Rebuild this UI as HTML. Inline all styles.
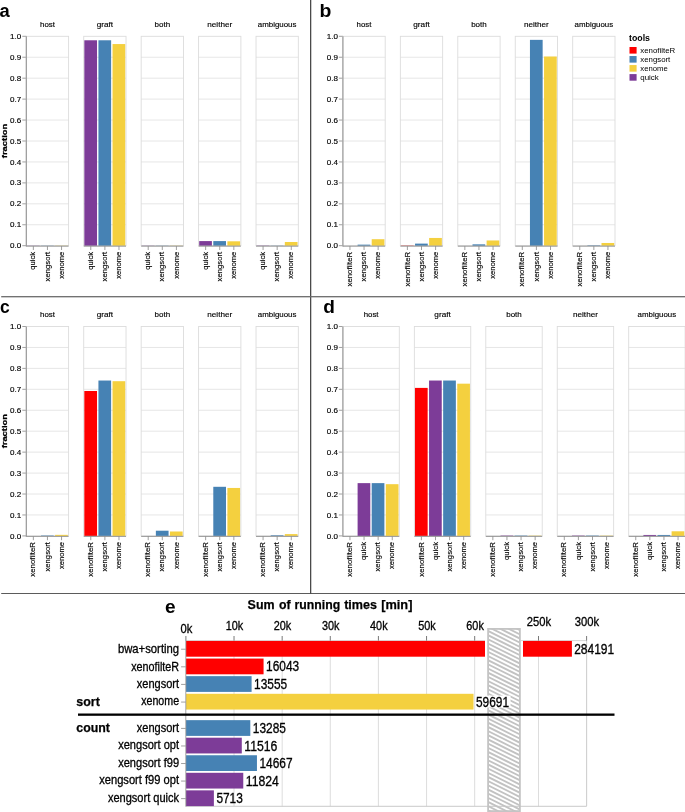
<!DOCTYPE html>
<html><head><meta charset="utf-8"><title>figure</title>
<style>
html,body{margin:0;padding:0;background:#fff;}
body{width:685px;height:812px;overflow:hidden;font-family:"Liberation Sans",sans-serif;}
svg{display:block;will-change:transform;}
svg text{font-family:"Liberation Sans",sans-serif;fill:#000;}
svg text.h{stroke:#000;stroke-width:0.3px;}
svg text.s{stroke:#000;stroke-width:0.15px;}
svg text.b{stroke:#000;stroke-width:0.25px;}
</style></head><body>
<svg width="685" height="812" viewBox="0 0 685 812">
<line x1="22.30" x2="26.30" y1="245.70" y2="245.70" stroke="#888" stroke-width="0.8"/>
<text x="21.30" y="248.30" font-size="7.5" class="s" text-anchor="end" textLength="11.2" lengthAdjust="spacingAndGlyphs" fill="#000">0.0</text>
<line x1="22.30" x2="26.30" y1="224.76" y2="224.76" stroke="#888" stroke-width="0.8"/>
<text x="21.30" y="227.36" font-size="7.5" class="s" text-anchor="end" textLength="11.2" lengthAdjust="spacingAndGlyphs" fill="#000">0.1</text>
<line x1="22.30" x2="26.30" y1="203.82" y2="203.82" stroke="#888" stroke-width="0.8"/>
<text x="21.30" y="206.42" font-size="7.5" class="s" text-anchor="end" textLength="11.2" lengthAdjust="spacingAndGlyphs" fill="#000">0.2</text>
<line x1="22.30" x2="26.30" y1="182.88" y2="182.88" stroke="#888" stroke-width="0.8"/>
<text x="21.30" y="185.48" font-size="7.5" class="s" text-anchor="end" textLength="11.2" lengthAdjust="spacingAndGlyphs" fill="#000">0.3</text>
<line x1="22.30" x2="26.30" y1="161.94" y2="161.94" stroke="#888" stroke-width="0.8"/>
<text x="21.30" y="164.54" font-size="7.5" class="s" text-anchor="end" textLength="11.2" lengthAdjust="spacingAndGlyphs" fill="#000">0.4</text>
<line x1="22.30" x2="26.30" y1="141.00" y2="141.00" stroke="#888" stroke-width="0.8"/>
<text x="21.30" y="143.60" font-size="7.5" class="s" text-anchor="end" textLength="11.2" lengthAdjust="spacingAndGlyphs" fill="#000">0.5</text>
<line x1="22.30" x2="26.30" y1="120.06" y2="120.06" stroke="#888" stroke-width="0.8"/>
<text x="21.30" y="122.66" font-size="7.5" class="s" text-anchor="end" textLength="11.2" lengthAdjust="spacingAndGlyphs" fill="#000">0.6</text>
<line x1="22.30" x2="26.30" y1="99.12" y2="99.12" stroke="#888" stroke-width="0.8"/>
<text x="21.30" y="101.72" font-size="7.5" class="s" text-anchor="end" textLength="11.2" lengthAdjust="spacingAndGlyphs" fill="#000">0.7</text>
<line x1="22.30" x2="26.30" y1="78.18" y2="78.18" stroke="#888" stroke-width="0.8"/>
<text x="21.30" y="80.78" font-size="7.5" class="s" text-anchor="end" textLength="11.2" lengthAdjust="spacingAndGlyphs" fill="#000">0.8</text>
<line x1="22.30" x2="26.30" y1="57.24" y2="57.24" stroke="#888" stroke-width="0.8"/>
<text x="21.30" y="59.84" font-size="7.5" class="s" text-anchor="end" textLength="11.2" lengthAdjust="spacingAndGlyphs" fill="#000">0.9</text>
<line x1="22.30" x2="26.30" y1="36.30" y2="36.30" stroke="#888" stroke-width="0.8"/>
<text x="21.30" y="38.90" font-size="7.5" class="s" text-anchor="end" textLength="11.2" lengthAdjust="spacingAndGlyphs" fill="#000">1.0</text>
<text transform="translate(6.9,141.00) rotate(-90)" font-size="8.1" class="b" font-weight="bold" text-anchor="middle" textLength="34.3" lengthAdjust="spacingAndGlyphs" fill="#000">fraction</text>
<line x1="26.30" x2="68.60" y1="224.76" y2="224.76" stroke="#dfdfdf" stroke-width="0.8"/>
<line x1="26.30" x2="68.60" y1="203.82" y2="203.82" stroke="#dfdfdf" stroke-width="0.8"/>
<line x1="26.30" x2="68.60" y1="182.88" y2="182.88" stroke="#dfdfdf" stroke-width="0.8"/>
<line x1="26.30" x2="68.60" y1="161.94" y2="161.94" stroke="#dfdfdf" stroke-width="0.8"/>
<line x1="26.30" x2="68.60" y1="141.00" y2="141.00" stroke="#dfdfdf" stroke-width="0.8"/>
<line x1="26.30" x2="68.60" y1="120.06" y2="120.06" stroke="#dfdfdf" stroke-width="0.8"/>
<line x1="26.30" x2="68.60" y1="99.12" y2="99.12" stroke="#dfdfdf" stroke-width="0.8"/>
<line x1="26.30" x2="68.60" y1="78.18" y2="78.18" stroke="#dfdfdf" stroke-width="0.8"/>
<line x1="26.30" x2="68.60" y1="57.24" y2="57.24" stroke="#dfdfdf" stroke-width="0.8"/>
<rect x="26.30" y="36.30" width="42.30" height="209.40" fill="none" stroke="#dcdcdc" stroke-width="0.9"/>
<rect x="26.90" y="245.53" width="12.7" height="0.17" fill="#7d3c98"/>
<rect x="41.00" y="245.53" width="12.7" height="0.17" fill="#4682b4"/>
<rect x="55.10" y="245.53" width="12.7" height="0.17" fill="#f4d03f"/>
<line x1="26.30" x2="68.60" y1="246.15" y2="246.15" stroke="#888" stroke-width="0.9"/>
<line x1="33.35" x2="33.35" y1="246.15" y2="250.00" stroke="#888" stroke-width="0.8"/>
<text transform="translate(35.45,251.80) rotate(-90)" class="s" font-size="7.7" text-anchor="end" textLength="18.0" lengthAdjust="spacingAndGlyphs" fill="#000">quick</text>
<line x1="47.45" x2="47.45" y1="246.15" y2="250.00" stroke="#888" stroke-width="0.8"/>
<text transform="translate(49.55,251.80) rotate(-90)" class="s" font-size="7.7" text-anchor="end" textLength="29.6" lengthAdjust="spacingAndGlyphs" fill="#000">xengsort</text>
<line x1="61.55" x2="61.55" y1="246.15" y2="250.00" stroke="#888" stroke-width="0.8"/>
<text transform="translate(63.65,251.80) rotate(-90)" class="s" font-size="7.7" text-anchor="end" textLength="27.0" lengthAdjust="spacingAndGlyphs" fill="#000">xenome</text>
<text x="47.45" y="27.20" font-size="7.8" class="s" text-anchor="middle" textLength="14.9" lengthAdjust="spacingAndGlyphs" fill="#000">host</text>
<line x1="83.73" x2="126.03" y1="224.76" y2="224.76" stroke="#dfdfdf" stroke-width="0.8"/>
<line x1="83.73" x2="126.03" y1="203.82" y2="203.82" stroke="#dfdfdf" stroke-width="0.8"/>
<line x1="83.73" x2="126.03" y1="182.88" y2="182.88" stroke="#dfdfdf" stroke-width="0.8"/>
<line x1="83.73" x2="126.03" y1="161.94" y2="161.94" stroke="#dfdfdf" stroke-width="0.8"/>
<line x1="83.73" x2="126.03" y1="141.00" y2="141.00" stroke="#dfdfdf" stroke-width="0.8"/>
<line x1="83.73" x2="126.03" y1="120.06" y2="120.06" stroke="#dfdfdf" stroke-width="0.8"/>
<line x1="83.73" x2="126.03" y1="99.12" y2="99.12" stroke="#dfdfdf" stroke-width="0.8"/>
<line x1="83.73" x2="126.03" y1="78.18" y2="78.18" stroke="#dfdfdf" stroke-width="0.8"/>
<line x1="83.73" x2="126.03" y1="57.24" y2="57.24" stroke="#dfdfdf" stroke-width="0.8"/>
<rect x="83.73" y="36.30" width="42.30" height="209.40" fill="none" stroke="#dcdcdc" stroke-width="0.9"/>
<rect x="84.33" y="40.28" width="12.7" height="205.42" fill="#7d3c98"/>
<rect x="98.43" y="40.28" width="12.7" height="205.42" fill="#4682b4"/>
<rect x="112.53" y="44.05" width="12.7" height="201.65" fill="#f4d03f"/>
<line x1="83.73" x2="126.03" y1="246.15" y2="246.15" stroke="#888" stroke-width="0.9"/>
<line x1="90.78" x2="90.78" y1="246.15" y2="250.00" stroke="#888" stroke-width="0.8"/>
<text transform="translate(92.88,251.80) rotate(-90)" class="s" font-size="7.7" text-anchor="end" textLength="18.0" lengthAdjust="spacingAndGlyphs" fill="#000">quick</text>
<line x1="104.88" x2="104.88" y1="246.15" y2="250.00" stroke="#888" stroke-width="0.8"/>
<text transform="translate(106.98,251.80) rotate(-90)" class="s" font-size="7.7" text-anchor="end" textLength="29.6" lengthAdjust="spacingAndGlyphs" fill="#000">xengsort</text>
<line x1="118.98" x2="118.98" y1="246.15" y2="250.00" stroke="#888" stroke-width="0.8"/>
<text transform="translate(121.08,251.80) rotate(-90)" class="s" font-size="7.7" text-anchor="end" textLength="27.0" lengthAdjust="spacingAndGlyphs" fill="#000">xenome</text>
<text x="104.88" y="27.20" font-size="7.8" class="s" text-anchor="middle" textLength="16.4" lengthAdjust="spacingAndGlyphs" fill="#000">graft</text>
<line x1="141.16" x2="183.46" y1="224.76" y2="224.76" stroke="#dfdfdf" stroke-width="0.8"/>
<line x1="141.16" x2="183.46" y1="203.82" y2="203.82" stroke="#dfdfdf" stroke-width="0.8"/>
<line x1="141.16" x2="183.46" y1="182.88" y2="182.88" stroke="#dfdfdf" stroke-width="0.8"/>
<line x1="141.16" x2="183.46" y1="161.94" y2="161.94" stroke="#dfdfdf" stroke-width="0.8"/>
<line x1="141.16" x2="183.46" y1="141.00" y2="141.00" stroke="#dfdfdf" stroke-width="0.8"/>
<line x1="141.16" x2="183.46" y1="120.06" y2="120.06" stroke="#dfdfdf" stroke-width="0.8"/>
<line x1="141.16" x2="183.46" y1="99.12" y2="99.12" stroke="#dfdfdf" stroke-width="0.8"/>
<line x1="141.16" x2="183.46" y1="78.18" y2="78.18" stroke="#dfdfdf" stroke-width="0.8"/>
<line x1="141.16" x2="183.46" y1="57.24" y2="57.24" stroke="#dfdfdf" stroke-width="0.8"/>
<rect x="141.16" y="36.30" width="42.30" height="209.40" fill="none" stroke="#dcdcdc" stroke-width="0.9"/>
<rect x="141.76" y="245.53" width="12.7" height="0.17" fill="#7d3c98"/>
<rect x="155.86" y="245.53" width="12.7" height="0.17" fill="#4682b4"/>
<rect x="169.96" y="245.53" width="12.7" height="0.17" fill="#f4d03f"/>
<line x1="141.16" x2="183.46" y1="246.15" y2="246.15" stroke="#888" stroke-width="0.9"/>
<line x1="148.21" x2="148.21" y1="246.15" y2="250.00" stroke="#888" stroke-width="0.8"/>
<text transform="translate(150.31,251.80) rotate(-90)" class="s" font-size="7.7" text-anchor="end" textLength="18.0" lengthAdjust="spacingAndGlyphs" fill="#000">quick</text>
<line x1="162.31" x2="162.31" y1="246.15" y2="250.00" stroke="#888" stroke-width="0.8"/>
<text transform="translate(164.41,251.80) rotate(-90)" class="s" font-size="7.7" text-anchor="end" textLength="29.6" lengthAdjust="spacingAndGlyphs" fill="#000">xengsort</text>
<line x1="176.41" x2="176.41" y1="246.15" y2="250.00" stroke="#888" stroke-width="0.8"/>
<text transform="translate(178.51,251.80) rotate(-90)" class="s" font-size="7.7" text-anchor="end" textLength="27.0" lengthAdjust="spacingAndGlyphs" fill="#000">xenome</text>
<text x="162.31" y="27.20" font-size="7.8" class="s" text-anchor="middle" textLength="15.6" lengthAdjust="spacingAndGlyphs" fill="#000">both</text>
<line x1="198.59" x2="240.89" y1="224.76" y2="224.76" stroke="#dfdfdf" stroke-width="0.8"/>
<line x1="198.59" x2="240.89" y1="203.82" y2="203.82" stroke="#dfdfdf" stroke-width="0.8"/>
<line x1="198.59" x2="240.89" y1="182.88" y2="182.88" stroke="#dfdfdf" stroke-width="0.8"/>
<line x1="198.59" x2="240.89" y1="161.94" y2="161.94" stroke="#dfdfdf" stroke-width="0.8"/>
<line x1="198.59" x2="240.89" y1="141.00" y2="141.00" stroke="#dfdfdf" stroke-width="0.8"/>
<line x1="198.59" x2="240.89" y1="120.06" y2="120.06" stroke="#dfdfdf" stroke-width="0.8"/>
<line x1="198.59" x2="240.89" y1="99.12" y2="99.12" stroke="#dfdfdf" stroke-width="0.8"/>
<line x1="198.59" x2="240.89" y1="78.18" y2="78.18" stroke="#dfdfdf" stroke-width="0.8"/>
<line x1="198.59" x2="240.89" y1="57.24" y2="57.24" stroke="#dfdfdf" stroke-width="0.8"/>
<rect x="198.59" y="36.30" width="42.30" height="209.40" fill="none" stroke="#dcdcdc" stroke-width="0.9"/>
<rect x="199.19" y="241.09" width="12.7" height="4.61" fill="#7d3c98"/>
<rect x="213.29" y="241.09" width="12.7" height="4.61" fill="#4682b4"/>
<rect x="227.39" y="241.30" width="12.7" height="4.40" fill="#f4d03f"/>
<line x1="198.59" x2="240.89" y1="246.15" y2="246.15" stroke="#888" stroke-width="0.9"/>
<line x1="205.64" x2="205.64" y1="246.15" y2="250.00" stroke="#888" stroke-width="0.8"/>
<text transform="translate(207.74,251.80) rotate(-90)" class="s" font-size="7.7" text-anchor="end" textLength="18.0" lengthAdjust="spacingAndGlyphs" fill="#000">quick</text>
<line x1="219.74" x2="219.74" y1="246.15" y2="250.00" stroke="#888" stroke-width="0.8"/>
<text transform="translate(221.84,251.80) rotate(-90)" class="s" font-size="7.7" text-anchor="end" textLength="29.6" lengthAdjust="spacingAndGlyphs" fill="#000">xengsort</text>
<line x1="233.84" x2="233.84" y1="246.15" y2="250.00" stroke="#888" stroke-width="0.8"/>
<text transform="translate(235.94,251.80) rotate(-90)" class="s" font-size="7.7" text-anchor="end" textLength="27.0" lengthAdjust="spacingAndGlyphs" fill="#000">xenome</text>
<text x="219.74" y="27.20" font-size="7.8" class="s" text-anchor="middle" textLength="24.9" lengthAdjust="spacingAndGlyphs" fill="#000">neither</text>
<line x1="256.02" x2="298.32" y1="224.76" y2="224.76" stroke="#dfdfdf" stroke-width="0.8"/>
<line x1="256.02" x2="298.32" y1="203.82" y2="203.82" stroke="#dfdfdf" stroke-width="0.8"/>
<line x1="256.02" x2="298.32" y1="182.88" y2="182.88" stroke="#dfdfdf" stroke-width="0.8"/>
<line x1="256.02" x2="298.32" y1="161.94" y2="161.94" stroke="#dfdfdf" stroke-width="0.8"/>
<line x1="256.02" x2="298.32" y1="141.00" y2="141.00" stroke="#dfdfdf" stroke-width="0.8"/>
<line x1="256.02" x2="298.32" y1="120.06" y2="120.06" stroke="#dfdfdf" stroke-width="0.8"/>
<line x1="256.02" x2="298.32" y1="99.12" y2="99.12" stroke="#dfdfdf" stroke-width="0.8"/>
<line x1="256.02" x2="298.32" y1="78.18" y2="78.18" stroke="#dfdfdf" stroke-width="0.8"/>
<line x1="256.02" x2="298.32" y1="57.24" y2="57.24" stroke="#dfdfdf" stroke-width="0.8"/>
<rect x="256.02" y="36.30" width="42.30" height="209.40" fill="none" stroke="#dcdcdc" stroke-width="0.9"/>
<rect x="256.62" y="245.45" width="12.7" height="0.25" fill="#7d3c98"/>
<rect x="270.72" y="245.53" width="12.7" height="0.17" fill="#4682b4"/>
<rect x="284.82" y="241.99" width="12.7" height="3.71" fill="#f4d03f"/>
<line x1="256.02" x2="298.32" y1="246.15" y2="246.15" stroke="#888" stroke-width="0.9"/>
<line x1="263.07" x2="263.07" y1="246.15" y2="250.00" stroke="#888" stroke-width="0.8"/>
<text transform="translate(265.17,251.80) rotate(-90)" class="s" font-size="7.7" text-anchor="end" textLength="18.0" lengthAdjust="spacingAndGlyphs" fill="#000">quick</text>
<line x1="277.17" x2="277.17" y1="246.15" y2="250.00" stroke="#888" stroke-width="0.8"/>
<text transform="translate(279.27,251.80) rotate(-90)" class="s" font-size="7.7" text-anchor="end" textLength="29.6" lengthAdjust="spacingAndGlyphs" fill="#000">xengsort</text>
<line x1="291.27" x2="291.27" y1="246.15" y2="250.00" stroke="#888" stroke-width="0.8"/>
<text transform="translate(293.37,251.80) rotate(-90)" class="s" font-size="7.7" text-anchor="end" textLength="27.0" lengthAdjust="spacingAndGlyphs" fill="#000">xenome</text>
<text x="277.17" y="27.20" font-size="7.8" class="s" text-anchor="middle" textLength="38.6" lengthAdjust="spacingAndGlyphs" fill="#000">ambiguous</text>
<line x1="26.30" x2="26.30" y1="36.30" y2="246.50" stroke="#959595" stroke-width="1.1"/>
<line x1="338.90" x2="342.90" y1="245.70" y2="245.70" stroke="#888" stroke-width="0.8"/>
<text x="337.90" y="248.30" font-size="7.5" class="s" text-anchor="end" textLength="11.2" lengthAdjust="spacingAndGlyphs" fill="#000">0.0</text>
<line x1="338.90" x2="342.90" y1="224.76" y2="224.76" stroke="#888" stroke-width="0.8"/>
<text x="337.90" y="227.36" font-size="7.5" class="s" text-anchor="end" textLength="11.2" lengthAdjust="spacingAndGlyphs" fill="#000">0.1</text>
<line x1="338.90" x2="342.90" y1="203.82" y2="203.82" stroke="#888" stroke-width="0.8"/>
<text x="337.90" y="206.42" font-size="7.5" class="s" text-anchor="end" textLength="11.2" lengthAdjust="spacingAndGlyphs" fill="#000">0.2</text>
<line x1="338.90" x2="342.90" y1="182.88" y2="182.88" stroke="#888" stroke-width="0.8"/>
<text x="337.90" y="185.48" font-size="7.5" class="s" text-anchor="end" textLength="11.2" lengthAdjust="spacingAndGlyphs" fill="#000">0.3</text>
<line x1="338.90" x2="342.90" y1="161.94" y2="161.94" stroke="#888" stroke-width="0.8"/>
<text x="337.90" y="164.54" font-size="7.5" class="s" text-anchor="end" textLength="11.2" lengthAdjust="spacingAndGlyphs" fill="#000">0.4</text>
<line x1="338.90" x2="342.90" y1="141.00" y2="141.00" stroke="#888" stroke-width="0.8"/>
<text x="337.90" y="143.60" font-size="7.5" class="s" text-anchor="end" textLength="11.2" lengthAdjust="spacingAndGlyphs" fill="#000">0.5</text>
<line x1="338.90" x2="342.90" y1="120.06" y2="120.06" stroke="#888" stroke-width="0.8"/>
<text x="337.90" y="122.66" font-size="7.5" class="s" text-anchor="end" textLength="11.2" lengthAdjust="spacingAndGlyphs" fill="#000">0.6</text>
<line x1="338.90" x2="342.90" y1="99.12" y2="99.12" stroke="#888" stroke-width="0.8"/>
<text x="337.90" y="101.72" font-size="7.5" class="s" text-anchor="end" textLength="11.2" lengthAdjust="spacingAndGlyphs" fill="#000">0.7</text>
<line x1="338.90" x2="342.90" y1="78.18" y2="78.18" stroke="#888" stroke-width="0.8"/>
<text x="337.90" y="80.78" font-size="7.5" class="s" text-anchor="end" textLength="11.2" lengthAdjust="spacingAndGlyphs" fill="#000">0.8</text>
<line x1="338.90" x2="342.90" y1="57.24" y2="57.24" stroke="#888" stroke-width="0.8"/>
<text x="337.90" y="59.84" font-size="7.5" class="s" text-anchor="end" textLength="11.2" lengthAdjust="spacingAndGlyphs" fill="#000">0.9</text>
<line x1="338.90" x2="342.90" y1="36.30" y2="36.30" stroke="#888" stroke-width="0.8"/>
<text x="337.90" y="38.90" font-size="7.5" class="s" text-anchor="end" textLength="11.2" lengthAdjust="spacingAndGlyphs" fill="#000">1.0</text>
<line x1="342.90" x2="385.20" y1="224.76" y2="224.76" stroke="#dfdfdf" stroke-width="0.8"/>
<line x1="342.90" x2="385.20" y1="203.82" y2="203.82" stroke="#dfdfdf" stroke-width="0.8"/>
<line x1="342.90" x2="385.20" y1="182.88" y2="182.88" stroke="#dfdfdf" stroke-width="0.8"/>
<line x1="342.90" x2="385.20" y1="161.94" y2="161.94" stroke="#dfdfdf" stroke-width="0.8"/>
<line x1="342.90" x2="385.20" y1="141.00" y2="141.00" stroke="#dfdfdf" stroke-width="0.8"/>
<line x1="342.90" x2="385.20" y1="120.06" y2="120.06" stroke="#dfdfdf" stroke-width="0.8"/>
<line x1="342.90" x2="385.20" y1="99.12" y2="99.12" stroke="#dfdfdf" stroke-width="0.8"/>
<line x1="342.90" x2="385.20" y1="78.18" y2="78.18" stroke="#dfdfdf" stroke-width="0.8"/>
<line x1="342.90" x2="385.20" y1="57.24" y2="57.24" stroke="#dfdfdf" stroke-width="0.8"/>
<rect x="342.90" y="36.30" width="42.30" height="209.40" fill="none" stroke="#dcdcdc" stroke-width="0.9"/>
<rect x="357.60" y="244.65" width="12.7" height="1.05" fill="#4682b4"/>
<rect x="371.70" y="239.21" width="12.7" height="6.49" fill="#f4d03f"/>
<line x1="342.90" x2="385.20" y1="246.15" y2="246.15" stroke="#888" stroke-width="0.9"/>
<line x1="349.95" x2="349.95" y1="246.15" y2="250.00" stroke="#888" stroke-width="0.8"/>
<text transform="translate(352.05,251.80) rotate(-90)" class="s" font-size="7.7" text-anchor="end" textLength="34.7" lengthAdjust="spacingAndGlyphs" fill="#000">xenofilteR</text>
<line x1="364.05" x2="364.05" y1="246.15" y2="250.00" stroke="#888" stroke-width="0.8"/>
<text transform="translate(366.15,251.80) rotate(-90)" class="s" font-size="7.7" text-anchor="end" textLength="29.6" lengthAdjust="spacingAndGlyphs" fill="#000">xengsort</text>
<line x1="378.15" x2="378.15" y1="246.15" y2="250.00" stroke="#888" stroke-width="0.8"/>
<text transform="translate(380.25,251.80) rotate(-90)" class="s" font-size="7.7" text-anchor="end" textLength="27.0" lengthAdjust="spacingAndGlyphs" fill="#000">xenome</text>
<text x="364.05" y="27.20" font-size="7.8" class="s" text-anchor="middle" textLength="14.9" lengthAdjust="spacingAndGlyphs" fill="#000">host</text>
<line x1="400.35" x2="442.65" y1="224.76" y2="224.76" stroke="#dfdfdf" stroke-width="0.8"/>
<line x1="400.35" x2="442.65" y1="203.82" y2="203.82" stroke="#dfdfdf" stroke-width="0.8"/>
<line x1="400.35" x2="442.65" y1="182.88" y2="182.88" stroke="#dfdfdf" stroke-width="0.8"/>
<line x1="400.35" x2="442.65" y1="161.94" y2="161.94" stroke="#dfdfdf" stroke-width="0.8"/>
<line x1="400.35" x2="442.65" y1="141.00" y2="141.00" stroke="#dfdfdf" stroke-width="0.8"/>
<line x1="400.35" x2="442.65" y1="120.06" y2="120.06" stroke="#dfdfdf" stroke-width="0.8"/>
<line x1="400.35" x2="442.65" y1="99.12" y2="99.12" stroke="#dfdfdf" stroke-width="0.8"/>
<line x1="400.35" x2="442.65" y1="78.18" y2="78.18" stroke="#dfdfdf" stroke-width="0.8"/>
<line x1="400.35" x2="442.65" y1="57.24" y2="57.24" stroke="#dfdfdf" stroke-width="0.8"/>
<rect x="400.35" y="36.30" width="42.30" height="209.40" fill="none" stroke="#dcdcdc" stroke-width="0.9"/>
<rect x="400.95" y="245.45" width="12.7" height="0.25" fill="#ff0000"/>
<rect x="415.05" y="243.61" width="12.7" height="2.09" fill="#4682b4"/>
<rect x="429.15" y="237.95" width="12.7" height="7.75" fill="#f4d03f"/>
<line x1="400.35" x2="442.65" y1="246.15" y2="246.15" stroke="#888" stroke-width="0.9"/>
<line x1="407.40" x2="407.40" y1="246.15" y2="250.00" stroke="#888" stroke-width="0.8"/>
<text transform="translate(409.50,251.80) rotate(-90)" class="s" font-size="7.7" text-anchor="end" textLength="34.7" lengthAdjust="spacingAndGlyphs" fill="#000">xenofilteR</text>
<line x1="421.50" x2="421.50" y1="246.15" y2="250.00" stroke="#888" stroke-width="0.8"/>
<text transform="translate(423.60,251.80) rotate(-90)" class="s" font-size="7.7" text-anchor="end" textLength="29.6" lengthAdjust="spacingAndGlyphs" fill="#000">xengsort</text>
<line x1="435.60" x2="435.60" y1="246.15" y2="250.00" stroke="#888" stroke-width="0.8"/>
<text transform="translate(437.70,251.80) rotate(-90)" class="s" font-size="7.7" text-anchor="end" textLength="27.0" lengthAdjust="spacingAndGlyphs" fill="#000">xenome</text>
<text x="421.50" y="27.20" font-size="7.8" class="s" text-anchor="middle" textLength="16.4" lengthAdjust="spacingAndGlyphs" fill="#000">graft</text>
<line x1="457.80" x2="500.10" y1="224.76" y2="224.76" stroke="#dfdfdf" stroke-width="0.8"/>
<line x1="457.80" x2="500.10" y1="203.82" y2="203.82" stroke="#dfdfdf" stroke-width="0.8"/>
<line x1="457.80" x2="500.10" y1="182.88" y2="182.88" stroke="#dfdfdf" stroke-width="0.8"/>
<line x1="457.80" x2="500.10" y1="161.94" y2="161.94" stroke="#dfdfdf" stroke-width="0.8"/>
<line x1="457.80" x2="500.10" y1="141.00" y2="141.00" stroke="#dfdfdf" stroke-width="0.8"/>
<line x1="457.80" x2="500.10" y1="120.06" y2="120.06" stroke="#dfdfdf" stroke-width="0.8"/>
<line x1="457.80" x2="500.10" y1="99.12" y2="99.12" stroke="#dfdfdf" stroke-width="0.8"/>
<line x1="457.80" x2="500.10" y1="78.18" y2="78.18" stroke="#dfdfdf" stroke-width="0.8"/>
<line x1="457.80" x2="500.10" y1="57.24" y2="57.24" stroke="#dfdfdf" stroke-width="0.8"/>
<rect x="457.80" y="36.30" width="42.30" height="209.40" fill="none" stroke="#dcdcdc" stroke-width="0.9"/>
<rect x="472.50" y="244.34" width="12.7" height="1.36" fill="#4682b4"/>
<rect x="486.60" y="240.46" width="12.7" height="5.24" fill="#f4d03f"/>
<line x1="457.80" x2="500.10" y1="246.15" y2="246.15" stroke="#888" stroke-width="0.9"/>
<line x1="464.85" x2="464.85" y1="246.15" y2="250.00" stroke="#888" stroke-width="0.8"/>
<text transform="translate(466.95,251.80) rotate(-90)" class="s" font-size="7.7" text-anchor="end" textLength="34.7" lengthAdjust="spacingAndGlyphs" fill="#000">xenofilteR</text>
<line x1="478.95" x2="478.95" y1="246.15" y2="250.00" stroke="#888" stroke-width="0.8"/>
<text transform="translate(481.05,251.80) rotate(-90)" class="s" font-size="7.7" text-anchor="end" textLength="29.6" lengthAdjust="spacingAndGlyphs" fill="#000">xengsort</text>
<line x1="493.05" x2="493.05" y1="246.15" y2="250.00" stroke="#888" stroke-width="0.8"/>
<text transform="translate(495.15,251.80) rotate(-90)" class="s" font-size="7.7" text-anchor="end" textLength="27.0" lengthAdjust="spacingAndGlyphs" fill="#000">xenome</text>
<text x="478.95" y="27.20" font-size="7.8" class="s" text-anchor="middle" textLength="15.6" lengthAdjust="spacingAndGlyphs" fill="#000">both</text>
<line x1="515.25" x2="557.55" y1="224.76" y2="224.76" stroke="#dfdfdf" stroke-width="0.8"/>
<line x1="515.25" x2="557.55" y1="203.82" y2="203.82" stroke="#dfdfdf" stroke-width="0.8"/>
<line x1="515.25" x2="557.55" y1="182.88" y2="182.88" stroke="#dfdfdf" stroke-width="0.8"/>
<line x1="515.25" x2="557.55" y1="161.94" y2="161.94" stroke="#dfdfdf" stroke-width="0.8"/>
<line x1="515.25" x2="557.55" y1="141.00" y2="141.00" stroke="#dfdfdf" stroke-width="0.8"/>
<line x1="515.25" x2="557.55" y1="120.06" y2="120.06" stroke="#dfdfdf" stroke-width="0.8"/>
<line x1="515.25" x2="557.55" y1="99.12" y2="99.12" stroke="#dfdfdf" stroke-width="0.8"/>
<line x1="515.25" x2="557.55" y1="78.18" y2="78.18" stroke="#dfdfdf" stroke-width="0.8"/>
<line x1="515.25" x2="557.55" y1="57.24" y2="57.24" stroke="#dfdfdf" stroke-width="0.8"/>
<rect x="515.25" y="36.30" width="42.30" height="209.40" fill="none" stroke="#dcdcdc" stroke-width="0.9"/>
<rect x="529.95" y="39.86" width="12.7" height="205.84" fill="#4682b4"/>
<rect x="544.05" y="56.51" width="12.7" height="189.19" fill="#f4d03f"/>
<line x1="515.25" x2="557.55" y1="246.15" y2="246.15" stroke="#888" stroke-width="0.9"/>
<line x1="522.30" x2="522.30" y1="246.15" y2="250.00" stroke="#888" stroke-width="0.8"/>
<text transform="translate(524.40,251.80) rotate(-90)" class="s" font-size="7.7" text-anchor="end" textLength="34.7" lengthAdjust="spacingAndGlyphs" fill="#000">xenofilteR</text>
<line x1="536.40" x2="536.40" y1="246.15" y2="250.00" stroke="#888" stroke-width="0.8"/>
<text transform="translate(538.50,251.80) rotate(-90)" class="s" font-size="7.7" text-anchor="end" textLength="29.6" lengthAdjust="spacingAndGlyphs" fill="#000">xengsort</text>
<line x1="550.50" x2="550.50" y1="246.15" y2="250.00" stroke="#888" stroke-width="0.8"/>
<text transform="translate(552.60,251.80) rotate(-90)" class="s" font-size="7.7" text-anchor="end" textLength="27.0" lengthAdjust="spacingAndGlyphs" fill="#000">xenome</text>
<text x="536.40" y="27.20" font-size="7.8" class="s" text-anchor="middle" textLength="24.9" lengthAdjust="spacingAndGlyphs" fill="#000">neither</text>
<line x1="572.70" x2="615.00" y1="224.76" y2="224.76" stroke="#dfdfdf" stroke-width="0.8"/>
<line x1="572.70" x2="615.00" y1="203.82" y2="203.82" stroke="#dfdfdf" stroke-width="0.8"/>
<line x1="572.70" x2="615.00" y1="182.88" y2="182.88" stroke="#dfdfdf" stroke-width="0.8"/>
<line x1="572.70" x2="615.00" y1="161.94" y2="161.94" stroke="#dfdfdf" stroke-width="0.8"/>
<line x1="572.70" x2="615.00" y1="141.00" y2="141.00" stroke="#dfdfdf" stroke-width="0.8"/>
<line x1="572.70" x2="615.00" y1="120.06" y2="120.06" stroke="#dfdfdf" stroke-width="0.8"/>
<line x1="572.70" x2="615.00" y1="99.12" y2="99.12" stroke="#dfdfdf" stroke-width="0.8"/>
<line x1="572.70" x2="615.00" y1="78.18" y2="78.18" stroke="#dfdfdf" stroke-width="0.8"/>
<line x1="572.70" x2="615.00" y1="57.24" y2="57.24" stroke="#dfdfdf" stroke-width="0.8"/>
<rect x="572.70" y="36.30" width="42.30" height="209.40" fill="none" stroke="#dcdcdc" stroke-width="0.9"/>
<rect x="587.40" y="245.28" width="12.7" height="0.42" fill="#4682b4"/>
<rect x="601.50" y="242.98" width="12.7" height="2.72" fill="#f4d03f"/>
<line x1="572.70" x2="615.00" y1="246.15" y2="246.15" stroke="#888" stroke-width="0.9"/>
<line x1="579.75" x2="579.75" y1="246.15" y2="250.00" stroke="#888" stroke-width="0.8"/>
<text transform="translate(581.85,251.80) rotate(-90)" class="s" font-size="7.7" text-anchor="end" textLength="34.7" lengthAdjust="spacingAndGlyphs" fill="#000">xenofilteR</text>
<line x1="593.85" x2="593.85" y1="246.15" y2="250.00" stroke="#888" stroke-width="0.8"/>
<text transform="translate(595.95,251.80) rotate(-90)" class="s" font-size="7.7" text-anchor="end" textLength="29.6" lengthAdjust="spacingAndGlyphs" fill="#000">xengsort</text>
<line x1="607.95" x2="607.95" y1="246.15" y2="250.00" stroke="#888" stroke-width="0.8"/>
<text transform="translate(610.05,251.80) rotate(-90)" class="s" font-size="7.7" text-anchor="end" textLength="27.0" lengthAdjust="spacingAndGlyphs" fill="#000">xenome</text>
<text x="593.85" y="27.20" font-size="7.8" class="s" text-anchor="middle" textLength="38.6" lengthAdjust="spacingAndGlyphs" fill="#000">ambiguous</text>
<line x1="342.90" x2="342.90" y1="36.30" y2="246.50" stroke="#959595" stroke-width="1.1"/>
<line x1="22.30" x2="26.30" y1="535.90" y2="535.90" stroke="#888" stroke-width="0.8"/>
<text x="21.30" y="538.50" font-size="7.5" class="s" text-anchor="end" textLength="11.2" lengthAdjust="spacingAndGlyphs" fill="#000">0.0</text>
<line x1="22.30" x2="26.30" y1="514.96" y2="514.96" stroke="#888" stroke-width="0.8"/>
<text x="21.30" y="517.56" font-size="7.5" class="s" text-anchor="end" textLength="11.2" lengthAdjust="spacingAndGlyphs" fill="#000">0.1</text>
<line x1="22.30" x2="26.30" y1="494.02" y2="494.02" stroke="#888" stroke-width="0.8"/>
<text x="21.30" y="496.62" font-size="7.5" class="s" text-anchor="end" textLength="11.2" lengthAdjust="spacingAndGlyphs" fill="#000">0.2</text>
<line x1="22.30" x2="26.30" y1="473.08" y2="473.08" stroke="#888" stroke-width="0.8"/>
<text x="21.30" y="475.68" font-size="7.5" class="s" text-anchor="end" textLength="11.2" lengthAdjust="spacingAndGlyphs" fill="#000">0.3</text>
<line x1="22.30" x2="26.30" y1="452.14" y2="452.14" stroke="#888" stroke-width="0.8"/>
<text x="21.30" y="454.74" font-size="7.5" class="s" text-anchor="end" textLength="11.2" lengthAdjust="spacingAndGlyphs" fill="#000">0.4</text>
<line x1="22.30" x2="26.30" y1="431.20" y2="431.20" stroke="#888" stroke-width="0.8"/>
<text x="21.30" y="433.80" font-size="7.5" class="s" text-anchor="end" textLength="11.2" lengthAdjust="spacingAndGlyphs" fill="#000">0.5</text>
<line x1="22.30" x2="26.30" y1="410.26" y2="410.26" stroke="#888" stroke-width="0.8"/>
<text x="21.30" y="412.86" font-size="7.5" class="s" text-anchor="end" textLength="11.2" lengthAdjust="spacingAndGlyphs" fill="#000">0.6</text>
<line x1="22.30" x2="26.30" y1="389.32" y2="389.32" stroke="#888" stroke-width="0.8"/>
<text x="21.30" y="391.92" font-size="7.5" class="s" text-anchor="end" textLength="11.2" lengthAdjust="spacingAndGlyphs" fill="#000">0.7</text>
<line x1="22.30" x2="26.30" y1="368.38" y2="368.38" stroke="#888" stroke-width="0.8"/>
<text x="21.30" y="370.98" font-size="7.5" class="s" text-anchor="end" textLength="11.2" lengthAdjust="spacingAndGlyphs" fill="#000">0.8</text>
<line x1="22.30" x2="26.30" y1="347.44" y2="347.44" stroke="#888" stroke-width="0.8"/>
<text x="21.30" y="350.04" font-size="7.5" class="s" text-anchor="end" textLength="11.2" lengthAdjust="spacingAndGlyphs" fill="#000">0.9</text>
<line x1="22.30" x2="26.30" y1="326.50" y2="326.50" stroke="#888" stroke-width="0.8"/>
<text x="21.30" y="329.10" font-size="7.5" class="s" text-anchor="end" textLength="11.2" lengthAdjust="spacingAndGlyphs" fill="#000">1.0</text>
<text transform="translate(6.9,431.20) rotate(-90)" font-size="8.1" class="b" font-weight="bold" text-anchor="middle" textLength="34.3" lengthAdjust="spacingAndGlyphs" fill="#000">fraction</text>
<line x1="26.30" x2="68.60" y1="514.96" y2="514.96" stroke="#dfdfdf" stroke-width="0.8"/>
<line x1="26.30" x2="68.60" y1="494.02" y2="494.02" stroke="#dfdfdf" stroke-width="0.8"/>
<line x1="26.30" x2="68.60" y1="473.08" y2="473.08" stroke="#dfdfdf" stroke-width="0.8"/>
<line x1="26.30" x2="68.60" y1="452.14" y2="452.14" stroke="#dfdfdf" stroke-width="0.8"/>
<line x1="26.30" x2="68.60" y1="431.20" y2="431.20" stroke="#dfdfdf" stroke-width="0.8"/>
<line x1="26.30" x2="68.60" y1="410.26" y2="410.26" stroke="#dfdfdf" stroke-width="0.8"/>
<line x1="26.30" x2="68.60" y1="389.32" y2="389.32" stroke="#dfdfdf" stroke-width="0.8"/>
<line x1="26.30" x2="68.60" y1="368.38" y2="368.38" stroke="#dfdfdf" stroke-width="0.8"/>
<line x1="26.30" x2="68.60" y1="347.44" y2="347.44" stroke="#dfdfdf" stroke-width="0.8"/>
<rect x="26.30" y="326.50" width="42.30" height="209.40" fill="none" stroke="#dcdcdc" stroke-width="0.9"/>
<rect x="41.00" y="535.48" width="12.7" height="0.42" fill="#4682b4"/>
<rect x="55.10" y="534.85" width="12.7" height="1.05" fill="#f4d03f"/>
<line x1="26.30" x2="68.60" y1="536.35" y2="536.35" stroke="#888" stroke-width="0.9"/>
<line x1="33.35" x2="33.35" y1="536.35" y2="540.20" stroke="#888" stroke-width="0.8"/>
<text transform="translate(35.45,542.00) rotate(-90)" class="s" font-size="7.7" text-anchor="end" textLength="34.7" lengthAdjust="spacingAndGlyphs" fill="#000">xenofilteR</text>
<line x1="47.45" x2="47.45" y1="536.35" y2="540.20" stroke="#888" stroke-width="0.8"/>
<text transform="translate(49.55,542.00) rotate(-90)" class="s" font-size="7.7" text-anchor="end" textLength="29.6" lengthAdjust="spacingAndGlyphs" fill="#000">xengsort</text>
<line x1="61.55" x2="61.55" y1="536.35" y2="540.20" stroke="#888" stroke-width="0.8"/>
<text transform="translate(63.65,542.00) rotate(-90)" class="s" font-size="7.7" text-anchor="end" textLength="27.0" lengthAdjust="spacingAndGlyphs" fill="#000">xenome</text>
<text x="47.45" y="317.40" font-size="7.8" class="s" text-anchor="middle" textLength="14.9" lengthAdjust="spacingAndGlyphs" fill="#000">host</text>
<line x1="83.73" x2="126.03" y1="514.96" y2="514.96" stroke="#dfdfdf" stroke-width="0.8"/>
<line x1="83.73" x2="126.03" y1="494.02" y2="494.02" stroke="#dfdfdf" stroke-width="0.8"/>
<line x1="83.73" x2="126.03" y1="473.08" y2="473.08" stroke="#dfdfdf" stroke-width="0.8"/>
<line x1="83.73" x2="126.03" y1="452.14" y2="452.14" stroke="#dfdfdf" stroke-width="0.8"/>
<line x1="83.73" x2="126.03" y1="431.20" y2="431.20" stroke="#dfdfdf" stroke-width="0.8"/>
<line x1="83.73" x2="126.03" y1="410.26" y2="410.26" stroke="#dfdfdf" stroke-width="0.8"/>
<line x1="83.73" x2="126.03" y1="389.32" y2="389.32" stroke="#dfdfdf" stroke-width="0.8"/>
<line x1="83.73" x2="126.03" y1="368.38" y2="368.38" stroke="#dfdfdf" stroke-width="0.8"/>
<line x1="83.73" x2="126.03" y1="347.44" y2="347.44" stroke="#dfdfdf" stroke-width="0.8"/>
<rect x="83.73" y="326.50" width="42.30" height="209.40" fill="none" stroke="#dcdcdc" stroke-width="0.9"/>
<rect x="84.33" y="391.00" width="12.7" height="144.90" fill="#ff0000"/>
<rect x="98.43" y="380.53" width="12.7" height="155.37" fill="#4682b4"/>
<rect x="112.53" y="381.20" width="12.7" height="154.70" fill="#f4d03f"/>
<line x1="83.73" x2="126.03" y1="536.35" y2="536.35" stroke="#888" stroke-width="0.9"/>
<line x1="90.78" x2="90.78" y1="536.35" y2="540.20" stroke="#888" stroke-width="0.8"/>
<text transform="translate(92.88,542.00) rotate(-90)" class="s" font-size="7.7" text-anchor="end" textLength="34.7" lengthAdjust="spacingAndGlyphs" fill="#000">xenofilteR</text>
<line x1="104.88" x2="104.88" y1="536.35" y2="540.20" stroke="#888" stroke-width="0.8"/>
<text transform="translate(106.98,542.00) rotate(-90)" class="s" font-size="7.7" text-anchor="end" textLength="29.6" lengthAdjust="spacingAndGlyphs" fill="#000">xengsort</text>
<line x1="118.98" x2="118.98" y1="536.35" y2="540.20" stroke="#888" stroke-width="0.8"/>
<text transform="translate(121.08,542.00) rotate(-90)" class="s" font-size="7.7" text-anchor="end" textLength="27.0" lengthAdjust="spacingAndGlyphs" fill="#000">xenome</text>
<text x="104.88" y="317.40" font-size="7.8" class="s" text-anchor="middle" textLength="16.4" lengthAdjust="spacingAndGlyphs" fill="#000">graft</text>
<line x1="141.16" x2="183.46" y1="514.96" y2="514.96" stroke="#dfdfdf" stroke-width="0.8"/>
<line x1="141.16" x2="183.46" y1="494.02" y2="494.02" stroke="#dfdfdf" stroke-width="0.8"/>
<line x1="141.16" x2="183.46" y1="473.08" y2="473.08" stroke="#dfdfdf" stroke-width="0.8"/>
<line x1="141.16" x2="183.46" y1="452.14" y2="452.14" stroke="#dfdfdf" stroke-width="0.8"/>
<line x1="141.16" x2="183.46" y1="431.20" y2="431.20" stroke="#dfdfdf" stroke-width="0.8"/>
<line x1="141.16" x2="183.46" y1="410.26" y2="410.26" stroke="#dfdfdf" stroke-width="0.8"/>
<line x1="141.16" x2="183.46" y1="389.32" y2="389.32" stroke="#dfdfdf" stroke-width="0.8"/>
<line x1="141.16" x2="183.46" y1="368.38" y2="368.38" stroke="#dfdfdf" stroke-width="0.8"/>
<line x1="141.16" x2="183.46" y1="347.44" y2="347.44" stroke="#dfdfdf" stroke-width="0.8"/>
<rect x="141.16" y="326.50" width="42.30" height="209.40" fill="none" stroke="#dcdcdc" stroke-width="0.9"/>
<rect x="155.86" y="530.71" width="12.7" height="5.19" fill="#4682b4"/>
<rect x="169.96" y="531.50" width="12.7" height="4.40" fill="#f4d03f"/>
<line x1="141.16" x2="183.46" y1="536.35" y2="536.35" stroke="#888" stroke-width="0.9"/>
<line x1="148.21" x2="148.21" y1="536.35" y2="540.20" stroke="#888" stroke-width="0.8"/>
<text transform="translate(150.31,542.00) rotate(-90)" class="s" font-size="7.7" text-anchor="end" textLength="34.7" lengthAdjust="spacingAndGlyphs" fill="#000">xenofilteR</text>
<line x1="162.31" x2="162.31" y1="536.35" y2="540.20" stroke="#888" stroke-width="0.8"/>
<text transform="translate(164.41,542.00) rotate(-90)" class="s" font-size="7.7" text-anchor="end" textLength="29.6" lengthAdjust="spacingAndGlyphs" fill="#000">xengsort</text>
<line x1="176.41" x2="176.41" y1="536.35" y2="540.20" stroke="#888" stroke-width="0.8"/>
<text transform="translate(178.51,542.00) rotate(-90)" class="s" font-size="7.7" text-anchor="end" textLength="27.0" lengthAdjust="spacingAndGlyphs" fill="#000">xenome</text>
<text x="162.31" y="317.40" font-size="7.8" class="s" text-anchor="middle" textLength="15.6" lengthAdjust="spacingAndGlyphs" fill="#000">both</text>
<line x1="198.59" x2="240.89" y1="514.96" y2="514.96" stroke="#dfdfdf" stroke-width="0.8"/>
<line x1="198.59" x2="240.89" y1="494.02" y2="494.02" stroke="#dfdfdf" stroke-width="0.8"/>
<line x1="198.59" x2="240.89" y1="473.08" y2="473.08" stroke="#dfdfdf" stroke-width="0.8"/>
<line x1="198.59" x2="240.89" y1="452.14" y2="452.14" stroke="#dfdfdf" stroke-width="0.8"/>
<line x1="198.59" x2="240.89" y1="431.20" y2="431.20" stroke="#dfdfdf" stroke-width="0.8"/>
<line x1="198.59" x2="240.89" y1="410.26" y2="410.26" stroke="#dfdfdf" stroke-width="0.8"/>
<line x1="198.59" x2="240.89" y1="389.32" y2="389.32" stroke="#dfdfdf" stroke-width="0.8"/>
<line x1="198.59" x2="240.89" y1="368.38" y2="368.38" stroke="#dfdfdf" stroke-width="0.8"/>
<line x1="198.59" x2="240.89" y1="347.44" y2="347.44" stroke="#dfdfdf" stroke-width="0.8"/>
<rect x="198.59" y="326.50" width="42.30" height="209.40" fill="none" stroke="#dcdcdc" stroke-width="0.9"/>
<rect x="213.29" y="486.80" width="12.7" height="49.10" fill="#4682b4"/>
<rect x="227.39" y="487.95" width="12.7" height="47.95" fill="#f4d03f"/>
<line x1="198.59" x2="240.89" y1="536.35" y2="536.35" stroke="#888" stroke-width="0.9"/>
<line x1="205.64" x2="205.64" y1="536.35" y2="540.20" stroke="#888" stroke-width="0.8"/>
<text transform="translate(207.74,542.00) rotate(-90)" class="s" font-size="7.7" text-anchor="end" textLength="34.7" lengthAdjust="spacingAndGlyphs" fill="#000">xenofilteR</text>
<line x1="219.74" x2="219.74" y1="536.35" y2="540.20" stroke="#888" stroke-width="0.8"/>
<text transform="translate(221.84,542.00) rotate(-90)" class="s" font-size="7.7" text-anchor="end" textLength="29.6" lengthAdjust="spacingAndGlyphs" fill="#000">xengsort</text>
<line x1="233.84" x2="233.84" y1="536.35" y2="540.20" stroke="#888" stroke-width="0.8"/>
<text transform="translate(235.94,542.00) rotate(-90)" class="s" font-size="7.7" text-anchor="end" textLength="27.0" lengthAdjust="spacingAndGlyphs" fill="#000">xenome</text>
<text x="219.74" y="317.40" font-size="7.8" class="s" text-anchor="middle" textLength="24.9" lengthAdjust="spacingAndGlyphs" fill="#000">neither</text>
<line x1="256.02" x2="298.32" y1="514.96" y2="514.96" stroke="#dfdfdf" stroke-width="0.8"/>
<line x1="256.02" x2="298.32" y1="494.02" y2="494.02" stroke="#dfdfdf" stroke-width="0.8"/>
<line x1="256.02" x2="298.32" y1="473.08" y2="473.08" stroke="#dfdfdf" stroke-width="0.8"/>
<line x1="256.02" x2="298.32" y1="452.14" y2="452.14" stroke="#dfdfdf" stroke-width="0.8"/>
<line x1="256.02" x2="298.32" y1="431.20" y2="431.20" stroke="#dfdfdf" stroke-width="0.8"/>
<line x1="256.02" x2="298.32" y1="410.26" y2="410.26" stroke="#dfdfdf" stroke-width="0.8"/>
<line x1="256.02" x2="298.32" y1="389.32" y2="389.32" stroke="#dfdfdf" stroke-width="0.8"/>
<line x1="256.02" x2="298.32" y1="368.38" y2="368.38" stroke="#dfdfdf" stroke-width="0.8"/>
<line x1="256.02" x2="298.32" y1="347.44" y2="347.44" stroke="#dfdfdf" stroke-width="0.8"/>
<rect x="256.02" y="326.50" width="42.30" height="209.40" fill="none" stroke="#dcdcdc" stroke-width="0.9"/>
<rect x="270.72" y="535.27" width="12.7" height="0.63" fill="#4682b4"/>
<rect x="284.82" y="534.10" width="12.7" height="1.80" fill="#f4d03f"/>
<line x1="256.02" x2="298.32" y1="536.35" y2="536.35" stroke="#888" stroke-width="0.9"/>
<line x1="263.07" x2="263.07" y1="536.35" y2="540.20" stroke="#888" stroke-width="0.8"/>
<text transform="translate(265.17,542.00) rotate(-90)" class="s" font-size="7.7" text-anchor="end" textLength="34.7" lengthAdjust="spacingAndGlyphs" fill="#000">xenofilteR</text>
<line x1="277.17" x2="277.17" y1="536.35" y2="540.20" stroke="#888" stroke-width="0.8"/>
<text transform="translate(279.27,542.00) rotate(-90)" class="s" font-size="7.7" text-anchor="end" textLength="29.6" lengthAdjust="spacingAndGlyphs" fill="#000">xengsort</text>
<line x1="291.27" x2="291.27" y1="536.35" y2="540.20" stroke="#888" stroke-width="0.8"/>
<text transform="translate(293.37,542.00) rotate(-90)" class="s" font-size="7.7" text-anchor="end" textLength="27.0" lengthAdjust="spacingAndGlyphs" fill="#000">xenome</text>
<text x="277.17" y="317.40" font-size="7.8" class="s" text-anchor="middle" textLength="38.6" lengthAdjust="spacingAndGlyphs" fill="#000">ambiguous</text>
<line x1="26.30" x2="26.30" y1="326.50" y2="536.70" stroke="#959595" stroke-width="1.1"/>
<line x1="338.90" x2="342.90" y1="535.90" y2="535.90" stroke="#888" stroke-width="0.8"/>
<text x="337.90" y="538.50" font-size="7.5" class="s" text-anchor="end" textLength="11.2" lengthAdjust="spacingAndGlyphs" fill="#000">0.0</text>
<line x1="338.90" x2="342.90" y1="514.96" y2="514.96" stroke="#888" stroke-width="0.8"/>
<text x="337.90" y="517.56" font-size="7.5" class="s" text-anchor="end" textLength="11.2" lengthAdjust="spacingAndGlyphs" fill="#000">0.1</text>
<line x1="338.90" x2="342.90" y1="494.02" y2="494.02" stroke="#888" stroke-width="0.8"/>
<text x="337.90" y="496.62" font-size="7.5" class="s" text-anchor="end" textLength="11.2" lengthAdjust="spacingAndGlyphs" fill="#000">0.2</text>
<line x1="338.90" x2="342.90" y1="473.08" y2="473.08" stroke="#888" stroke-width="0.8"/>
<text x="337.90" y="475.68" font-size="7.5" class="s" text-anchor="end" textLength="11.2" lengthAdjust="spacingAndGlyphs" fill="#000">0.3</text>
<line x1="338.90" x2="342.90" y1="452.14" y2="452.14" stroke="#888" stroke-width="0.8"/>
<text x="337.90" y="454.74" font-size="7.5" class="s" text-anchor="end" textLength="11.2" lengthAdjust="spacingAndGlyphs" fill="#000">0.4</text>
<line x1="338.90" x2="342.90" y1="431.20" y2="431.20" stroke="#888" stroke-width="0.8"/>
<text x="337.90" y="433.80" font-size="7.5" class="s" text-anchor="end" textLength="11.2" lengthAdjust="spacingAndGlyphs" fill="#000">0.5</text>
<line x1="338.90" x2="342.90" y1="410.26" y2="410.26" stroke="#888" stroke-width="0.8"/>
<text x="337.90" y="412.86" font-size="7.5" class="s" text-anchor="end" textLength="11.2" lengthAdjust="spacingAndGlyphs" fill="#000">0.6</text>
<line x1="338.90" x2="342.90" y1="389.32" y2="389.32" stroke="#888" stroke-width="0.8"/>
<text x="337.90" y="391.92" font-size="7.5" class="s" text-anchor="end" textLength="11.2" lengthAdjust="spacingAndGlyphs" fill="#000">0.7</text>
<line x1="338.90" x2="342.90" y1="368.38" y2="368.38" stroke="#888" stroke-width="0.8"/>
<text x="337.90" y="370.98" font-size="7.5" class="s" text-anchor="end" textLength="11.2" lengthAdjust="spacingAndGlyphs" fill="#000">0.8</text>
<line x1="338.90" x2="342.90" y1="347.44" y2="347.44" stroke="#888" stroke-width="0.8"/>
<text x="337.90" y="350.04" font-size="7.5" class="s" text-anchor="end" textLength="11.2" lengthAdjust="spacingAndGlyphs" fill="#000">0.9</text>
<line x1="338.90" x2="342.90" y1="326.50" y2="326.50" stroke="#888" stroke-width="0.8"/>
<text x="337.90" y="329.10" font-size="7.5" class="s" text-anchor="end" textLength="11.2" lengthAdjust="spacingAndGlyphs" fill="#000">1.0</text>
<line x1="342.90" x2="399.30" y1="514.96" y2="514.96" stroke="#dfdfdf" stroke-width="0.8"/>
<line x1="342.90" x2="399.30" y1="494.02" y2="494.02" stroke="#dfdfdf" stroke-width="0.8"/>
<line x1="342.90" x2="399.30" y1="473.08" y2="473.08" stroke="#dfdfdf" stroke-width="0.8"/>
<line x1="342.90" x2="399.30" y1="452.14" y2="452.14" stroke="#dfdfdf" stroke-width="0.8"/>
<line x1="342.90" x2="399.30" y1="431.20" y2="431.20" stroke="#dfdfdf" stroke-width="0.8"/>
<line x1="342.90" x2="399.30" y1="410.26" y2="410.26" stroke="#dfdfdf" stroke-width="0.8"/>
<line x1="342.90" x2="399.30" y1="389.32" y2="389.32" stroke="#dfdfdf" stroke-width="0.8"/>
<line x1="342.90" x2="399.30" y1="368.38" y2="368.38" stroke="#dfdfdf" stroke-width="0.8"/>
<line x1="342.90" x2="399.30" y1="347.44" y2="347.44" stroke="#dfdfdf" stroke-width="0.8"/>
<rect x="342.90" y="326.50" width="56.40" height="209.40" fill="none" stroke="#dcdcdc" stroke-width="0.9"/>
<rect x="357.60" y="483.13" width="12.7" height="52.77" fill="#7d3c98"/>
<rect x="371.70" y="483.13" width="12.7" height="52.77" fill="#4682b4"/>
<rect x="385.80" y="484.18" width="12.7" height="51.72" fill="#f4d03f"/>
<line x1="342.90" x2="399.30" y1="536.35" y2="536.35" stroke="#888" stroke-width="0.9"/>
<line x1="349.95" x2="349.95" y1="536.35" y2="540.20" stroke="#888" stroke-width="0.8"/>
<text transform="translate(352.05,542.00) rotate(-90)" class="s" font-size="7.7" text-anchor="end" textLength="34.7" lengthAdjust="spacingAndGlyphs" fill="#000">xenofilteR</text>
<line x1="364.05" x2="364.05" y1="536.35" y2="540.20" stroke="#888" stroke-width="0.8"/>
<text transform="translate(366.15,542.00) rotate(-90)" class="s" font-size="7.7" text-anchor="end" textLength="18.0" lengthAdjust="spacingAndGlyphs" fill="#000">quick</text>
<line x1="378.15" x2="378.15" y1="536.35" y2="540.20" stroke="#888" stroke-width="0.8"/>
<text transform="translate(380.25,542.00) rotate(-90)" class="s" font-size="7.7" text-anchor="end" textLength="29.6" lengthAdjust="spacingAndGlyphs" fill="#000">xengsort</text>
<line x1="392.25" x2="392.25" y1="536.35" y2="540.20" stroke="#888" stroke-width="0.8"/>
<text transform="translate(394.35,542.00) rotate(-90)" class="s" font-size="7.7" text-anchor="end" textLength="27.0" lengthAdjust="spacingAndGlyphs" fill="#000">xenome</text>
<text x="371.10" y="317.40" font-size="7.8" class="s" text-anchor="middle" textLength="14.9" lengthAdjust="spacingAndGlyphs" fill="#000">host</text>
<line x1="414.35" x2="470.75" y1="514.96" y2="514.96" stroke="#dfdfdf" stroke-width="0.8"/>
<line x1="414.35" x2="470.75" y1="494.02" y2="494.02" stroke="#dfdfdf" stroke-width="0.8"/>
<line x1="414.35" x2="470.75" y1="473.08" y2="473.08" stroke="#dfdfdf" stroke-width="0.8"/>
<line x1="414.35" x2="470.75" y1="452.14" y2="452.14" stroke="#dfdfdf" stroke-width="0.8"/>
<line x1="414.35" x2="470.75" y1="431.20" y2="431.20" stroke="#dfdfdf" stroke-width="0.8"/>
<line x1="414.35" x2="470.75" y1="410.26" y2="410.26" stroke="#dfdfdf" stroke-width="0.8"/>
<line x1="414.35" x2="470.75" y1="389.32" y2="389.32" stroke="#dfdfdf" stroke-width="0.8"/>
<line x1="414.35" x2="470.75" y1="368.38" y2="368.38" stroke="#dfdfdf" stroke-width="0.8"/>
<line x1="414.35" x2="470.75" y1="347.44" y2="347.44" stroke="#dfdfdf" stroke-width="0.8"/>
<rect x="414.35" y="326.50" width="56.40" height="209.40" fill="none" stroke="#dcdcdc" stroke-width="0.9"/>
<rect x="414.95" y="387.90" width="12.7" height="148.00" fill="#ff0000"/>
<rect x="429.05" y="380.53" width="12.7" height="155.37" fill="#7d3c98"/>
<rect x="443.15" y="380.53" width="12.7" height="155.37" fill="#4682b4"/>
<rect x="457.25" y="383.67" width="12.7" height="152.23" fill="#f4d03f"/>
<line x1="414.35" x2="470.75" y1="536.35" y2="536.35" stroke="#888" stroke-width="0.9"/>
<line x1="421.40" x2="421.40" y1="536.35" y2="540.20" stroke="#888" stroke-width="0.8"/>
<text transform="translate(423.50,542.00) rotate(-90)" class="s" font-size="7.7" text-anchor="end" textLength="34.7" lengthAdjust="spacingAndGlyphs" fill="#000">xenofilteR</text>
<line x1="435.50" x2="435.50" y1="536.35" y2="540.20" stroke="#888" stroke-width="0.8"/>
<text transform="translate(437.60,542.00) rotate(-90)" class="s" font-size="7.7" text-anchor="end" textLength="18.0" lengthAdjust="spacingAndGlyphs" fill="#000">quick</text>
<line x1="449.60" x2="449.60" y1="536.35" y2="540.20" stroke="#888" stroke-width="0.8"/>
<text transform="translate(451.70,542.00) rotate(-90)" class="s" font-size="7.7" text-anchor="end" textLength="29.6" lengthAdjust="spacingAndGlyphs" fill="#000">xengsort</text>
<line x1="463.70" x2="463.70" y1="536.35" y2="540.20" stroke="#888" stroke-width="0.8"/>
<text transform="translate(465.80,542.00) rotate(-90)" class="s" font-size="7.7" text-anchor="end" textLength="27.0" lengthAdjust="spacingAndGlyphs" fill="#000">xenome</text>
<text x="442.55" y="317.40" font-size="7.8" class="s" text-anchor="middle" textLength="16.4" lengthAdjust="spacingAndGlyphs" fill="#000">graft</text>
<line x1="485.80" x2="542.20" y1="514.96" y2="514.96" stroke="#dfdfdf" stroke-width="0.8"/>
<line x1="485.80" x2="542.20" y1="494.02" y2="494.02" stroke="#dfdfdf" stroke-width="0.8"/>
<line x1="485.80" x2="542.20" y1="473.08" y2="473.08" stroke="#dfdfdf" stroke-width="0.8"/>
<line x1="485.80" x2="542.20" y1="452.14" y2="452.14" stroke="#dfdfdf" stroke-width="0.8"/>
<line x1="485.80" x2="542.20" y1="431.20" y2="431.20" stroke="#dfdfdf" stroke-width="0.8"/>
<line x1="485.80" x2="542.20" y1="410.26" y2="410.26" stroke="#dfdfdf" stroke-width="0.8"/>
<line x1="485.80" x2="542.20" y1="389.32" y2="389.32" stroke="#dfdfdf" stroke-width="0.8"/>
<line x1="485.80" x2="542.20" y1="368.38" y2="368.38" stroke="#dfdfdf" stroke-width="0.8"/>
<line x1="485.80" x2="542.20" y1="347.44" y2="347.44" stroke="#dfdfdf" stroke-width="0.8"/>
<rect x="485.80" y="326.50" width="56.40" height="209.40" fill="none" stroke="#dcdcdc" stroke-width="0.9"/>
<rect x="500.50" y="535.52" width="12.7" height="0.38" fill="#7d3c98"/>
<rect x="514.60" y="535.52" width="12.7" height="0.38" fill="#4682b4"/>
<rect x="528.70" y="535.61" width="12.7" height="0.29" fill="#f4d03f"/>
<line x1="485.80" x2="542.20" y1="536.35" y2="536.35" stroke="#888" stroke-width="0.9"/>
<line x1="492.85" x2="492.85" y1="536.35" y2="540.20" stroke="#888" stroke-width="0.8"/>
<text transform="translate(494.95,542.00) rotate(-90)" class="s" font-size="7.7" text-anchor="end" textLength="34.7" lengthAdjust="spacingAndGlyphs" fill="#000">xenofilteR</text>
<line x1="506.95" x2="506.95" y1="536.35" y2="540.20" stroke="#888" stroke-width="0.8"/>
<text transform="translate(509.05,542.00) rotate(-90)" class="s" font-size="7.7" text-anchor="end" textLength="18.0" lengthAdjust="spacingAndGlyphs" fill="#000">quick</text>
<line x1="521.05" x2="521.05" y1="536.35" y2="540.20" stroke="#888" stroke-width="0.8"/>
<text transform="translate(523.15,542.00) rotate(-90)" class="s" font-size="7.7" text-anchor="end" textLength="29.6" lengthAdjust="spacingAndGlyphs" fill="#000">xengsort</text>
<line x1="535.15" x2="535.15" y1="536.35" y2="540.20" stroke="#888" stroke-width="0.8"/>
<text transform="translate(537.25,542.00) rotate(-90)" class="s" font-size="7.7" text-anchor="end" textLength="27.0" lengthAdjust="spacingAndGlyphs" fill="#000">xenome</text>
<text x="514.00" y="317.40" font-size="7.8" class="s" text-anchor="middle" textLength="15.6" lengthAdjust="spacingAndGlyphs" fill="#000">both</text>
<line x1="557.25" x2="613.65" y1="514.96" y2="514.96" stroke="#dfdfdf" stroke-width="0.8"/>
<line x1="557.25" x2="613.65" y1="494.02" y2="494.02" stroke="#dfdfdf" stroke-width="0.8"/>
<line x1="557.25" x2="613.65" y1="473.08" y2="473.08" stroke="#dfdfdf" stroke-width="0.8"/>
<line x1="557.25" x2="613.65" y1="452.14" y2="452.14" stroke="#dfdfdf" stroke-width="0.8"/>
<line x1="557.25" x2="613.65" y1="431.20" y2="431.20" stroke="#dfdfdf" stroke-width="0.8"/>
<line x1="557.25" x2="613.65" y1="410.26" y2="410.26" stroke="#dfdfdf" stroke-width="0.8"/>
<line x1="557.25" x2="613.65" y1="389.32" y2="389.32" stroke="#dfdfdf" stroke-width="0.8"/>
<line x1="557.25" x2="613.65" y1="368.38" y2="368.38" stroke="#dfdfdf" stroke-width="0.8"/>
<line x1="557.25" x2="613.65" y1="347.44" y2="347.44" stroke="#dfdfdf" stroke-width="0.8"/>
<rect x="557.25" y="326.50" width="56.40" height="209.40" fill="none" stroke="#dcdcdc" stroke-width="0.9"/>
<rect x="571.95" y="535.52" width="12.7" height="0.38" fill="#7d3c98"/>
<rect x="586.05" y="535.52" width="12.7" height="0.38" fill="#4682b4"/>
<rect x="600.15" y="535.61" width="12.7" height="0.29" fill="#f4d03f"/>
<line x1="557.25" x2="613.65" y1="536.35" y2="536.35" stroke="#888" stroke-width="0.9"/>
<line x1="564.30" x2="564.30" y1="536.35" y2="540.20" stroke="#888" stroke-width="0.8"/>
<text transform="translate(566.40,542.00) rotate(-90)" class="s" font-size="7.7" text-anchor="end" textLength="34.7" lengthAdjust="spacingAndGlyphs" fill="#000">xenofilteR</text>
<line x1="578.40" x2="578.40" y1="536.35" y2="540.20" stroke="#888" stroke-width="0.8"/>
<text transform="translate(580.50,542.00) rotate(-90)" class="s" font-size="7.7" text-anchor="end" textLength="18.0" lengthAdjust="spacingAndGlyphs" fill="#000">quick</text>
<line x1="592.50" x2="592.50" y1="536.35" y2="540.20" stroke="#888" stroke-width="0.8"/>
<text transform="translate(594.60,542.00) rotate(-90)" class="s" font-size="7.7" text-anchor="end" textLength="29.6" lengthAdjust="spacingAndGlyphs" fill="#000">xengsort</text>
<line x1="606.60" x2="606.60" y1="536.35" y2="540.20" stroke="#888" stroke-width="0.8"/>
<text transform="translate(608.70,542.00) rotate(-90)" class="s" font-size="7.7" text-anchor="end" textLength="27.0" lengthAdjust="spacingAndGlyphs" fill="#000">xenome</text>
<text x="585.45" y="317.40" font-size="7.8" class="s" text-anchor="middle" textLength="24.9" lengthAdjust="spacingAndGlyphs" fill="#000">neither</text>
<line x1="628.70" x2="685.10" y1="514.96" y2="514.96" stroke="#dfdfdf" stroke-width="0.8"/>
<line x1="628.70" x2="685.10" y1="494.02" y2="494.02" stroke="#dfdfdf" stroke-width="0.8"/>
<line x1="628.70" x2="685.10" y1="473.08" y2="473.08" stroke="#dfdfdf" stroke-width="0.8"/>
<line x1="628.70" x2="685.10" y1="452.14" y2="452.14" stroke="#dfdfdf" stroke-width="0.8"/>
<line x1="628.70" x2="685.10" y1="431.20" y2="431.20" stroke="#dfdfdf" stroke-width="0.8"/>
<line x1="628.70" x2="685.10" y1="410.26" y2="410.26" stroke="#dfdfdf" stroke-width="0.8"/>
<line x1="628.70" x2="685.10" y1="389.32" y2="389.32" stroke="#dfdfdf" stroke-width="0.8"/>
<line x1="628.70" x2="685.10" y1="368.38" y2="368.38" stroke="#dfdfdf" stroke-width="0.8"/>
<line x1="628.70" x2="685.10" y1="347.44" y2="347.44" stroke="#dfdfdf" stroke-width="0.8"/>
<rect x="628.70" y="326.50" width="56.40" height="209.40" fill="none" stroke="#dcdcdc" stroke-width="0.9"/>
<rect x="643.40" y="534.96" width="12.7" height="0.94" fill="#7d3c98"/>
<rect x="657.50" y="534.96" width="12.7" height="0.94" fill="#4682b4"/>
<rect x="671.60" y="531.29" width="12.7" height="4.61" fill="#f4d03f"/>
<line x1="628.70" x2="685.10" y1="536.35" y2="536.35" stroke="#888" stroke-width="0.9"/>
<line x1="635.75" x2="635.75" y1="536.35" y2="540.20" stroke="#888" stroke-width="0.8"/>
<text transform="translate(637.85,542.00) rotate(-90)" class="s" font-size="7.7" text-anchor="end" textLength="34.7" lengthAdjust="spacingAndGlyphs" fill="#000">xenofilteR</text>
<line x1="649.85" x2="649.85" y1="536.35" y2="540.20" stroke="#888" stroke-width="0.8"/>
<text transform="translate(651.95,542.00) rotate(-90)" class="s" font-size="7.7" text-anchor="end" textLength="18.0" lengthAdjust="spacingAndGlyphs" fill="#000">quick</text>
<line x1="663.95" x2="663.95" y1="536.35" y2="540.20" stroke="#888" stroke-width="0.8"/>
<text transform="translate(666.05,542.00) rotate(-90)" class="s" font-size="7.7" text-anchor="end" textLength="29.6" lengthAdjust="spacingAndGlyphs" fill="#000">xengsort</text>
<line x1="678.05" x2="678.05" y1="536.35" y2="540.20" stroke="#888" stroke-width="0.8"/>
<text transform="translate(680.15,542.00) rotate(-90)" class="s" font-size="7.7" text-anchor="end" textLength="27.0" lengthAdjust="spacingAndGlyphs" fill="#000">xenome</text>
<text x="656.90" y="317.40" font-size="7.8" class="s" text-anchor="middle" textLength="38.6" lengthAdjust="spacingAndGlyphs" fill="#000">ambiguous</text>
<line x1="342.90" x2="342.90" y1="326.50" y2="536.70" stroke="#959595" stroke-width="1.1"/>
<text x="629" y="41.2" font-size="8.2" font-weight="bold" textLength="21" lengthAdjust="spacingAndGlyphs">tools</text>
<rect x="629.5" y="47.00" width="7.1" height="6.6" fill="#ff0000"/>
<text x="640.3" y="53.00" font-size="7.8" textLength="35.0" lengthAdjust="spacingAndGlyphs">xenofilteR</text>
<rect x="629.5" y="56.03" width="7.1" height="6.6" fill="#4682b4"/>
<text x="640.3" y="62.03" font-size="7.8" textLength="30.0" lengthAdjust="spacingAndGlyphs">xengsort</text>
<rect x="629.5" y="65.06" width="7.1" height="6.6" fill="#f4d03f"/>
<text x="640.3" y="71.06" font-size="7.8" textLength="27.5" lengthAdjust="spacingAndGlyphs">xenome</text>
<rect x="629.5" y="74.09" width="7.1" height="6.6" fill="#7d3c98"/>
<text x="640.3" y="80.09" font-size="7.8" textLength="18.5" lengthAdjust="spacingAndGlyphs">quick</text>
<rect x="310.15" y="0" width="1.1" height="593.4" fill="#2c2c2c"/>
<rect x="1.2" y="296.05" width="683.8" height="1.3" fill="#6c6c6c"/>
<rect x="1.2" y="593.0" width="683.8" height="0.8" fill="#333"/>
<text transform="translate(-0.6,16.5) scale(1.02,1)" font-size="18" font-weight="bold">a</text>
<text transform="translate(319.6,16.6) scale(1.08,1)" font-size="18" font-weight="bold">b</text>
<text transform="translate(0.0,312.8) scale(1.0,1)" font-size="17.5" font-weight="bold">c</text>
<text transform="translate(323.3,312.5) scale(1.06,1)" font-size="18" font-weight="bold">d</text>
<text transform="translate(165.0,612.6) scale(1.06,1)" font-size="18" font-weight="bold">e</text>
<line x1="234.03" x2="234.03" y1="640.6" y2="806.2" stroke="#d4d4d4" stroke-width="0.8"/>
<line x1="282.16" x2="282.16" y1="640.6" y2="806.2" stroke="#d4d4d4" stroke-width="0.8"/>
<line x1="330.29" x2="330.29" y1="640.6" y2="806.2" stroke="#d4d4d4" stroke-width="0.8"/>
<line x1="378.42" x2="378.42" y1="640.6" y2="806.2" stroke="#d4d4d4" stroke-width="0.8"/>
<line x1="426.55" x2="426.55" y1="640.6" y2="806.2" stroke="#d4d4d4" stroke-width="0.8"/>
<line x1="474.68" x2="474.68" y1="640.6" y2="806.2" stroke="#d4d4d4" stroke-width="0.8"/>
<line x1="538.50" x2="538.50" y1="640.6" y2="806.2" stroke="#d4d4d4" stroke-width="0.8"/>
<line x1="586.60" x2="586.60" y1="640.6" y2="806.2" stroke="#d4d4d4" stroke-width="0.8"/>
<line x1="185.9" x2="485" y1="640.6" y2="640.6" stroke="#cccccc" stroke-width="0.8"/>
<line x1="521" x2="586.6" y1="640.6" y2="640.6" stroke="#cccccc" stroke-width="0.8"/>
<line x1="586.6" x2="586.6" y1="640.6" y2="806.2" stroke="#cccccc" stroke-width="0.8"/>
<line x1="185.90" x2="185.90" y1="636.0" y2="640.6" stroke="#6a6a6a" stroke-width="0.9"/>
<text x="186.40" y="633.1" font-size="11.9" class="h" text-anchor="middle" textLength="11.8" lengthAdjust="spacingAndGlyphs">0k</text>
<line x1="234.03" x2="234.03" y1="636.0" y2="640.6" stroke="#6a6a6a" stroke-width="0.9"/>
<text x="234.43" y="629.8" font-size="11.9" class="h" text-anchor="middle" textLength="17.5" lengthAdjust="spacingAndGlyphs">10k</text>
<line x1="282.16" x2="282.16" y1="636.0" y2="640.6" stroke="#6a6a6a" stroke-width="0.9"/>
<text x="282.56" y="629.8" font-size="11.9" class="h" text-anchor="middle" textLength="17.5" lengthAdjust="spacingAndGlyphs">20k</text>
<line x1="330.29" x2="330.29" y1="636.0" y2="640.6" stroke="#6a6a6a" stroke-width="0.9"/>
<text x="330.69" y="629.8" font-size="11.9" class="h" text-anchor="middle" textLength="17.5" lengthAdjust="spacingAndGlyphs">30k</text>
<line x1="378.42" x2="378.42" y1="636.0" y2="640.6" stroke="#6a6a6a" stroke-width="0.9"/>
<text x="378.82" y="629.8" font-size="11.9" class="h" text-anchor="middle" textLength="17.5" lengthAdjust="spacingAndGlyphs">40k</text>
<line x1="426.55" x2="426.55" y1="636.0" y2="640.6" stroke="#6a6a6a" stroke-width="0.9"/>
<text x="426.95" y="629.8" font-size="11.9" class="h" text-anchor="middle" textLength="17.5" lengthAdjust="spacingAndGlyphs">50k</text>
<line x1="474.68" x2="474.68" y1="636.0" y2="640.6" stroke="#6a6a6a" stroke-width="0.9"/>
<text x="475.08" y="629.8" font-size="11.9" class="h" text-anchor="middle" textLength="17.5" lengthAdjust="spacingAndGlyphs">60k</text>
<line x1="538.50" x2="538.50" y1="636.0" y2="640.6" stroke="#6a6a6a" stroke-width="0.9"/>
<text x="538.90" y="625.7" font-size="11.9" class="h" text-anchor="middle" textLength="24.3" lengthAdjust="spacingAndGlyphs">250k</text>
<line x1="586.60" x2="586.60" y1="636.0" y2="640.6" stroke="#6a6a6a" stroke-width="0.9"/>
<text x="587.00" y="625.7" font-size="11.9" class="h" text-anchor="middle" textLength="24.3" lengthAdjust="spacingAndGlyphs">300k</text>
<text x="247.6" y="608.7" font-size="13.3" class="b" font-weight="bold" textLength="27.0" lengthAdjust="spacingAndGlyphs">Sum</text>
<text x="279.0" y="608.7" font-size="13.3" class="b" font-weight="bold" textLength="11.6" lengthAdjust="spacingAndGlyphs">of</text>
<text x="294.6" y="608.7" font-size="13.3" class="b" font-weight="bold" textLength="45.6" lengthAdjust="spacingAndGlyphs">running</text>
<text x="344.2" y="608.7" font-size="13.3" class="b" font-weight="bold" textLength="32.8" lengthAdjust="spacingAndGlyphs">times</text>
<text x="381.2" y="608.7" font-size="13.3" class="b" font-weight="bold" textLength="31.2" lengthAdjust="spacingAndGlyphs">[min]</text>
<defs><clipPath id="hc"><rect x="488.1" y="628.9" width="31.8" height="182.2"/></clipPath></defs>
<rect x="488.1" y="628.9" width="31.8" height="182.2" fill="#fff"/>
<path clip-path="url(#hc)" d="M488,605.93 L520,621.93 M488,610.10 L520,626.10 M488,614.27 L520,630.27 M488,618.44 L520,634.44 M488,622.61 L520,638.61 M488,626.78 L520,642.78 M488,630.95 L520,646.95 M488,635.12 L520,651.12 M488,639.29 L520,655.29 M488,643.46 L520,659.46 M488,647.63 L520,663.63 M488,651.80 L520,667.80 M488,655.97 L520,671.97 M488,660.14 L520,676.14 M488,664.31 L520,680.31 M488,668.48 L520,684.48 M488,672.65 L520,688.65 M488,676.82 L520,692.82 M488,680.99 L520,696.99 M488,685.16 L520,701.16 M488,689.33 L520,705.33 M488,693.50 L520,709.50 M488,697.67 L520,713.67 M488,701.84 L520,717.84 M488,706.01 L520,722.01 M488,710.18 L520,726.18 M488,714.35 L520,730.35 M488,718.52 L520,734.52 M488,722.69 L520,738.69 M488,726.86 L520,742.86 M488,731.03 L520,747.03 M488,735.20 L520,751.20 M488,739.37 L520,755.37 M488,743.54 L520,759.54 M488,747.71 L520,763.71 M488,751.88 L520,767.88 M488,756.05 L520,772.05 M488,760.22 L520,776.22 M488,764.39 L520,780.39 M488,768.56 L520,784.56 M488,772.73 L520,788.73 M488,776.90 L520,792.90 M488,781.07 L520,797.07 M488,785.24 L520,801.24 M488,789.41 L520,805.41 M488,793.58 L520,809.58 M488,797.75 L520,813.75 M488,801.92 L520,817.92 M488,806.09 L520,822.09 M488,810.26 L520,826.26 M488,814.43 L520,830.43 M488,818.60 L520,834.60" stroke="#c2c2c2" stroke-width="1.85" fill="none"/>
<rect x="488.1" y="628.9" width="31.8" height="182.2" fill="none" stroke="#c4c4c4" stroke-width="1.8"/>
<line x1="185.9" x2="586.6" y1="806.3000000000001" y2="806.3000000000001" stroke="#c4c4c4" stroke-width="0.9"/>
<rect x="186.0" y="640.95" width="299.00" height="15.75" fill="#ff0000"/>
<rect x="523" y="640.95" width="48.90" height="15.75" fill="#ff0000"/>
<text x="574.2" y="653.83" font-size="14" class="h" textLength="40" lengthAdjust="spacingAndGlyphs">284191</text>
<line x1="181.1" x2="185.9" y1="649.23" y2="649.23" stroke="#888" stroke-width="0.8"/>
<text x="179.1" y="652.93" font-size="12.1" class="h" text-anchor="end" textLength="61.2" lengthAdjust="spacingAndGlyphs">bwa+sorting</text>
<rect x="186.0" y="658.55" width="77.57" height="15.75" fill="#ff0000"/>
<text x="266.07" y="671.42" font-size="14" class="h" textLength="33.1" lengthAdjust="spacingAndGlyphs">16043</text>
<line x1="181.1" x2="185.9" y1="666.82" y2="666.82" stroke="#888" stroke-width="0.8"/>
<text x="179.1" y="671.22" font-size="12.1" class="h" text-anchor="end" textLength="47.9" lengthAdjust="spacingAndGlyphs">xenofilteR</text>
<rect x="186.0" y="676.15" width="65.60" height="15.75" fill="#4682b4"/>
<text x="254.10" y="689.02" font-size="14" class="h" textLength="33.1" lengthAdjust="spacingAndGlyphs">13555</text>
<line x1="181.1" x2="185.9" y1="684.42" y2="684.42" stroke="#888" stroke-width="0.8"/>
<text x="179.1" y="687.52" font-size="12.1" class="h" text-anchor="end" textLength="42.3" lengthAdjust="spacingAndGlyphs">xengsort</text>
<rect x="476" y="695.6" width="34.5" height="11.9" fill="#fff"/>
<rect x="186.0" y="693.8" width="287.51" height="15.75" fill="#f4d03f"/>
<text x="476.01" y="706.67" font-size="14" class="h" textLength="33.1" lengthAdjust="spacingAndGlyphs">59691</text>
<line x1="181.1" x2="185.9" y1="702.07" y2="702.07" stroke="#888" stroke-width="0.8"/>
<text x="179.1" y="705.47" font-size="12.1" class="h" text-anchor="end" textLength="37.9" lengthAdjust="spacingAndGlyphs">xenome</text>
<rect x="186.0" y="720.15" width="64.30" height="15.75" fill="#4682b4"/>
<text x="252.80" y="733.02" font-size="14" class="h" textLength="33.1" lengthAdjust="spacingAndGlyphs">13285</text>
<line x1="181.1" x2="185.9" y1="728.42" y2="728.42" stroke="#888" stroke-width="0.8"/>
<text x="179.1" y="731.52" font-size="12.1" class="h" text-anchor="end" textLength="42.3" lengthAdjust="spacingAndGlyphs">xengsort</text>
<rect x="186.0" y="737.7" width="55.79" height="15.75" fill="#7d3c98"/>
<text x="244.29" y="750.58" font-size="14" class="h" textLength="33.1" lengthAdjust="spacingAndGlyphs">11516</text>
<line x1="181.1" x2="185.9" y1="745.98" y2="745.98" stroke="#888" stroke-width="0.8"/>
<text x="179.1" y="748.78" font-size="12.1" class="h" text-anchor="end" textLength="60.9" lengthAdjust="spacingAndGlyphs">xengsort opt</text>
<rect x="186.0" y="755.25" width="70.95" height="15.75" fill="#4682b4"/>
<text x="259.45" y="768.12" font-size="14" class="h" textLength="33.1" lengthAdjust="spacingAndGlyphs">14667</text>
<line x1="181.1" x2="185.9" y1="763.52" y2="763.52" stroke="#888" stroke-width="0.8"/>
<text x="179.1" y="766.83" font-size="12.1" class="h" text-anchor="end" textLength="60.9" lengthAdjust="spacingAndGlyphs">xengsort f99</text>
<rect x="186.0" y="772.8" width="57.27" height="15.75" fill="#7d3c98"/>
<text x="245.77" y="785.67" font-size="14" class="h" textLength="33.1" lengthAdjust="spacingAndGlyphs">11824</text>
<line x1="181.1" x2="185.9" y1="781.07" y2="781.07" stroke="#888" stroke-width="0.8"/>
<text x="179.1" y="784.38" font-size="12.1" class="h" text-anchor="end" textLength="79.9" lengthAdjust="spacingAndGlyphs">xengsort f99 opt</text>
<rect x="186.0" y="790.35" width="27.88" height="15.75" fill="#7d3c98"/>
<text x="216.38" y="803.23" font-size="14" class="h" textLength="26.5" lengthAdjust="spacingAndGlyphs">5713</text>
<line x1="181.1" x2="185.9" y1="798.62" y2="798.62" stroke="#888" stroke-width="0.8"/>
<text x="179.1" y="801.93" font-size="12.1" class="h" text-anchor="end" textLength="71.2" lengthAdjust="spacingAndGlyphs">xengsort quick</text>
<line x1="185.8" x2="185.8" y1="640.2" y2="806.6" stroke="#999" stroke-width="0.9"/>
<rect x="78" y="713.5" width="536.5" height="2.3" fill="#000"/>
<text x="76.3" y="706.3" font-size="13" class="b" font-weight="bold" textLength="23.6" lengthAdjust="spacingAndGlyphs">sort</text>
<text x="76.3" y="732.4" font-size="13" class="b" font-weight="bold" textLength="33.6" lengthAdjust="spacingAndGlyphs">count</text>
</svg>
</body></html>
